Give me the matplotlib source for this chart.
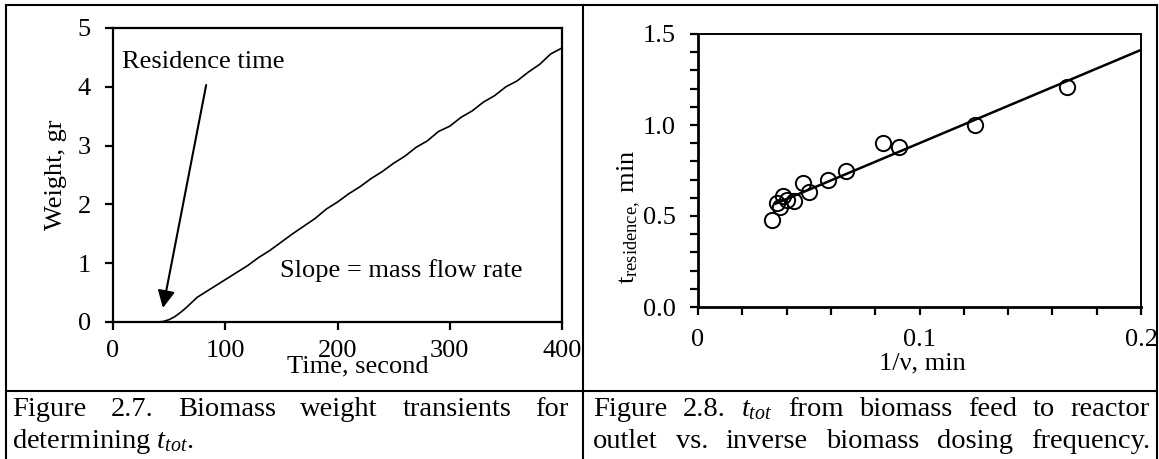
import numpy as np
import matplotlib
matplotlib.use("Agg")
import matplotlib.pyplot as plt
from matplotlib.lines import Line2D

plt.rcParams['font.family'] = ['Liberation Serif', 'DejaVu Serif']
plt.rcParams['mathtext.fontset'] = 'custom'
plt.rcParams['mathtext.rm'] = 'Liberation Serif'
plt.rcParams['mathtext.it'] = 'Liberation Serif:italic'

# Figure 2.7 - weight transient
time_s = [0, 10, 20, 30, 40, 45, 50, 55, 60, 65, 70, 75, 80, 90, 100, 110, 120,
          130, 140, 150, 160, 170, 180, 190, 200, 210, 220, 230, 240, 250, 260,
          270, 280, 290, 300, 310, 320, 330, 340, 350, 360, 370, 380, 390, 400]
weight_gr = [0, 0, 0, 0, 0, 0.01, 0.04, 0.09, 0.16, 0.24, 0.33, 0.42, 0.48, 0.60,
             0.72, 0.84, 0.96, 1.10, 1.22, 1.36, 1.50, 1.63, 1.76, 1.92, 2.04,
             2.18, 2.30, 2.44, 2.56, 2.70, 2.82, 2.97, 3.08, 3.24, 3.33, 3.48,
             3.59, 3.74, 3.85, 4.00, 4.10, 4.25, 4.38, 4.56, 4.66]

# Figure 2.8 - residence time vs inverse dosing frequency
inv_freq = [0.0333, 0.0357, 0.0370, 0.0385, 0.0400, 0.0435, 0.0476, 0.0500,
            0.0588, 0.0667, 0.0833, 0.0909, 0.1250, 0.1667]
t_res = [0.48, 0.57, 0.55, 0.61, 0.59, 0.58, 0.68, 0.63, 0.70, 0.75, 0.90,
         0.88, 1.00, 1.21]
fit_x = [0.035, 0.2]

W, H = 1159, 459
fig = plt.figure(figsize=(W / 100, H / 100), dpi=100)

FS = 19

# ---------------- left panel ----------------
ax1 = fig.add_axes([113 / W, 1 - 322 / H, 449 / W, 294 / H])
ax1.plot(time_s, weight_gr, color='black', lw=1.2)
ax1.set_xlim(0, 400)
ax1.set_ylim(0, 5)
ax1.set_xticks([0, 100, 200, 300, 400])
ax1.set_yticks([0, 1, 2, 3, 4, 5])
ax1.tick_params(direction='out', length=6, width=1.6, labelsize=FS)
ax1.tick_params(axis='y', pad=10)
ax1.tick_params(axis='x', pad=7)
for s in ax1.spines.values():
    s.set_linewidth(1.6)

# the x label sits right on top of the tick labels, as in the original
ax1.set_xlabel('Time, second', fontsize=FS)
ax1.xaxis.label.set_verticalalignment('center')
ax1.xaxis.set_label_coords(0.546, -0.15)
ax1.set_ylabel('Weight, gr', fontsize=FS)
ax1.yaxis.label.set_verticalalignment('center')
ax1.yaxis.set_label_coords(-0.128, 0.5)

ax1.text(8, 4.42, 'Residence time', fontsize=FS, ha='left', va='center')
ax1.annotate('', xy=(44.5, 0.24), xytext=(83, 4.03),
             arrowprops=dict(arrowstyle='-|>', color='black', lw=1.5,
                             mutation_scale=26, shrinkA=0, shrinkB=0))
ax1.text(149, 0.88, 'Slope = mass flow rate', fontsize=FS, ha='left', va='center')

# ---------------- right panel ----------------
ax2 = fig.add_axes([698 / W, 1 - 307 / H, 443 / W, 273 / H])
coef = np.polyfit(inv_freq, t_res, 1)
ax2.plot(fit_x, np.polyval(coef, fit_x), color='black', lw=1.8)
ax2.plot(inv_freq, t_res, 'o', mfc='none', mec='black', ms=11, mew=1.4)
ax2.set_xlim(0, 0.2)
ax2.set_ylim(0, 1.5)
ax2.set_xticks([0, 0.1, 0.2])
ax2.set_xticklabels(['0', '0.1', '0.2'])
ax2.set_xticks(np.arange(0, 0.2001, 0.02), minor=True)
ax2.set_yticks([0, 0.5, 1.0, 1.5])
ax2.set_yticklabels(['0.0', '0.5', '1.0', '1.5'])
ax2.set_yticks(np.arange(0, 1.5001, 0.1), minor=True)
ax2.tick_params(which='both', direction='out', length=6, width=1.6, labelsize=FS)
ax2.tick_params(axis='y', pad=10)
ax2.tick_params(axis='x', pad=10)
for s in ax2.spines.values():
    s.set_linewidth(1.4)
ax2.spines['left'].set_linewidth(2)
ax2.spines['bottom'].set_linewidth(2)

ax2.set_xlabel('1/\u03bd, min', fontsize=FS)
ax2.xaxis.label.set_verticalalignment('center')
ax2.xaxis.set_label_coords(0.506, -0.205)
ax2.set_ylabel(r'$\mathrm{t}_{\mathrm{residence,}}$ min', fontsize=FS)
ax2.yaxis.label.set_verticalalignment('center')
ax2.yaxis.set_label_coords(-0.155, 0.33)

# ---------------- table frame ----------------
def hline(y, x0, x1):
    fig.add_artist(Line2D([x0 / W, x1 / W], [1 - y / H, 1 - y / H],
                          color='black', lw=1.5))

def vline(x, y0, y1):
    fig.add_artist(Line2D([x / W, x / W], [1 - y0 / H, 1 - y1 / H],
                          color='black', lw=1.5))

hline(5, 6, 1157)
hline(391, 6, 1157)
vline(6, 5, 459)
vline(583, 5, 459)
vline(1157, 5, 459)

# ---------------- captions ----------------
CFS = 20.5
renderer = fig.canvas.get_renderer()

def justified(words, x0, x1, ybase):
    texts = [fig.text(0, 1 - ybase / H, w, fontsize=CFS, va='baseline')
             for w in words]
    widths = [t.get_window_extent(renderer).width for t in texts]
    gap = ((x1 - x0) - sum(widths)) / (len(words) - 1)
    pos = x0
    for t, w in zip(texts, widths):
        t.set_x(pos / W)
        pos += w + gap

justified('Figure 2.7. Biomass weight transients for'.split(), 12, 569, 416)
fig.text(12 / W, 1 - 448 / H, r'determining $t_{tot}$.', fontsize=CFS, va='baseline')
justified(['Figure', '2.8.', r'$t_{tot}$', 'from', 'biomass', 'feed', 'to', 'reactor'],
          593, 1150, 416)
justified('outlet vs. inverse biomass dosing frequency.'.split(), 593, 1150, 448)

fig.savefig('out.png', dpi=100)
